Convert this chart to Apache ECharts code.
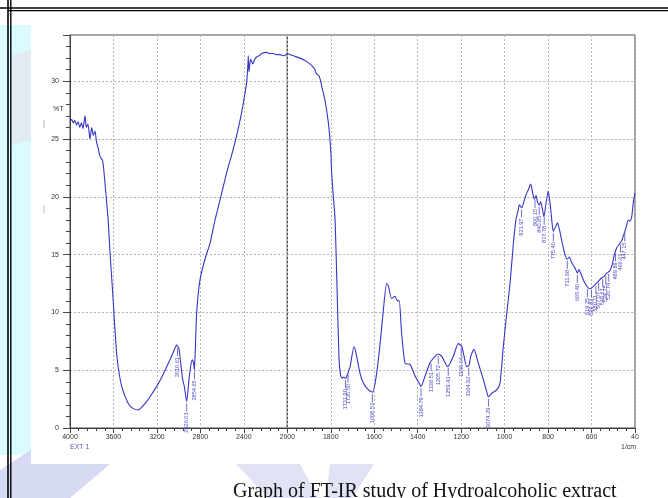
<!DOCTYPE html>
<html>
<head>
<meta charset="utf-8">
<script src="https://cdn.jsdelivr.net/npm/echarts@6/dist/echarts.min.js"></script>
<style>
  html, body { margin: 0; padding: 0; background: #fff; }
  #ftir { width: 668px; height: 498px; }
</style>
</head>
<body>
<div id="ftir"></div>
<script>
// FT-IR spectrum, 4000-2000 1/cm (compressed part of the x axis)
let wnHigh = [4000, 3985, 3970, 3955, 3940, 3925, 3910, 3895, 3880, 3862, 3850, 3835, 3816, 3800, 3785, 3770,
  3755, 3740, 3724, 3699, 3678, 3657, 3647, 3632, 3607, 3586, 3565, 3524, 3463, 3420, 3371, 3340, 3294, 3250,
  3202, 3150, 3110, 3070, 3034, 3018, 3005, 2997, 2981, 2963, 2948, 2926, 2905, 2890, 2875, 2862, 2855, 2846,
  2834, 2804, 2758, 2711, 2665, 2612, 2558, 2510, 2466, 2420, 2389, 2374, 2362, 2359, 2353, 2345, 2337, 2318,
  2300, 2282, 2260, 2236, 2190, 2160, 2129, 2100, 2067, 2030, 2000];
let tHigh = [26.5, 26.7, 26.4, 26.6, 26.2, 26.5, 26.0, 26.4, 25.9, 27.0, 26.0, 26.3, 25.0, 26.0, 25.3, 25.7,
  24.7, 24.2, 23.5, 23.1, 21.2, 18.9, 17.8, 15.2, 11.7, 8.5, 5.9, 3.6, 2.1, 1.7, 1.56, 1.8, 2.3, 2.9,
  3.6, 4.5, 5.3, 6.1, 6.9, 7.2, 7.0, 6.9, 5.6, 4.2, 3.6, 2.3, 4.2, 5.3, 5.9, 5.6, 5.0, 7.0,
  10.0, 12.8, 14.6, 16.0, 18.0, 20.0, 22.1, 23.7, 25.3, 27.3, 29.0, 29.9, 31.5, 32.2, 30.8, 31.5, 31.9, 31.5,
  31.9, 32.1, 32.2, 32.4, 32.5, 32.4, 32.4, 32.3, 32.3, 32.2, 32.4];

// 2000-400 1/cm (expanded part)
let wnLow = [2000, 1972, 1942, 1919, 1896, 1880, 1873, 1865, 1855, 1846, 1842, 1827, 1811, 1800, 1796, 1788,
  1780, 1771, 1762, 1755, 1748, 1740, 1731, 1720, 1711, 1693, 1684, 1665, 1650, 1627, 1607, 1589, 1573, 1558,
  1543, 1535, 1520, 1504, 1494, 1485, 1474, 1458, 1435, 1412, 1397, 1385, 1366, 1347, 1340, 1320, 1305, 1289,
  1262, 1236, 1213, 1197, 1190, 1174, 1164, 1156, 1141, 1121, 1098, 1082, 1075, 1059, 1036, 1021, 1006, 990,
  975, 960, 948, 937, 932, 921, 911, 901, 891, 880, 871, 863, 855, 848, 840, 834, 825, 819, 809, 799, 791,
  783, 776, 768, 757, 748, 737, 722, 711, 702, 691, 676, 665, 658, 648, 635, 619, 607, 592, 576, 564, 553,
  543, 530, 518, 507, 495, 484, 472, 461, 454, 442, 431, 423, 415, 408, 400];
let tLow = [32.4, 32.2, 32.0, 31.8, 31.5, 31.2, 31.0, 30.6, 30.5, 30.0, 29.6, 28.4, 26.4, 24.0, 22.1, 20.0,
  18.0, 12.0, 6.0, 4.6, 4.3, 4.4, 4.3, 4.8, 5.3, 7.05, 6.5, 4.7, 3.9, 3.3, 3.1, 4.7, 7.3, 10.2,
  12.5, 12.3, 11.2, 11.4, 11.0, 11.0, 8.2, 5.6, 5.5, 4.5, 4.0, 3.6, 4.5, 5.5, 5.75, 6.2, 6.4, 6.2,
  5.3, 6.2, 7.3, 7.05, 6.5, 5.3, 5.4, 6.2, 6.8, 5.6, 4.2, 3.1, 2.7, 3.0, 3.3, 3.9, 7.05, 9.95,
  12.5, 15.9, 18.0, 18.9, 19.3, 19.05, 19.6, 20.2, 20.6, 21.1, 20.35, 19.8, 20.1, 19.5, 19.3, 19.6, 18.8, 18.3, 19.5, 20.5, 19.5,
  18.0, 17.0, 17.3, 17.75, 17.2, 16.2, 15.0, 14.6, 14.8, 14.3, 13.85, 13.4, 13.7, 13.3, 12.7, 12.2, 12.05, 12.25, 12.55, 12.8, 13.0,
  13.1, 13.4, 13.55, 14.0, 15.0, 15.6, 15.9, 16.2, 16.6, 17.3, 18.0, 17.9, 18.3, 19.5, 20.35];

// labelled peaks
let peaksHigh = [3010.61, 2926.01, 2854.65];
let peaksLow = [1731.90, 1720.50, 1608.53, 1384.79, 1338.51, 1305.72, 1259.43, 1199.64, 1164.92, 1074.29,
  921.97, 860.15, 840.85, 817.78, 775.40, 711.68, 665.40, 619.25, 599.82, 580.11, 567.07, 548.61, 534.25,
  520.74, 489.89, 466.61, 447.15];

let xTicksHigh = [4000, 3600, 3200, 2800, 2400, 2000];
let xLabelsHigh = ['4000', '3600', '3200', '2800', '2400', '2000'];
let xTicksLow = [2000, 1800, 1600, 1400, 1200, 1000, 800, 600, 400];
let xLabelsLow = ['', '1800', '1600', '1400', '1200', '1000', '800', '600', '40'];
let yTicks = [0, 5, 10, 15, 20, 25, 30];
let yLabels = ['0', '5', '10', '15', '20', '25', '30'];

function lookup(ticks, labels) {
  return function (v) {
    let i = ticks.indexOf(v);
    return i < 0 ? '' : labels[i];
  };
}

// %T on the curve at a given wavenumber, to hang the peak labels
function tAt(w, xs, ys) {
  for (let i = 0; i < xs.length - 1; i++) {
    if (w <= xs[i] && w >= xs[i + 1]) {
      let f = (xs[i] - w) / (xs[i] - xs[i + 1]);
      return ys[i] + f * (ys[i + 1] - ys[i]);
    }
  }
  return ys[ys.length - 1];
}

const blue = '#3535c6';
const labBlue = '#4646c2';
const gridLine = { show: true, lineStyle: { color: '#b5b5b5', type: [2, 2], width: 1 } };
const tickFont = { fontSize: 7, color: '#333', fontFamily: 'Liberation Sans' };

function peakLabel(params, api) {
  let p = api.coord([api.value(0), api.value(1)]);
  return {
    type: 'group',
    children: [
      { type: 'line', shape: { x1: p[0], y1: p[1] + 2, x2: p[0], y2: p[1] + 10 },
        style: { stroke: labBlue, lineWidth: 0.8 } },
      { type: 'text', x: p[0], y: p[1] + 11, rotation: Math.PI / 2,
        style: { text: api.value(0).toFixed(2), fill: labBlue, font: '5.6px Liberation Sans',
          align: 'right', verticalAlign: 'middle', textAlign: 'right', textVerticalAlign: 'middle' } }
    ]
  };
}

var chart = echarts.init(document.getElementById('ftir'));
var option = {
  animation: false,
  graphic: [
    { type: 'rect', z: -100, shape: { x: 0, y: 0, width: 668, height: 498 }, style: { fill: '#fff' } },
    { type: 'rect', z: -99, shape: { x: 0, y: 25, width: 31, height: 430 }, style: { fill: '#dafcfe' } },
    { type: 'polygon', z: -98, shape: { points: [[12, 55], [31, 50], [31, 140], [12, 145]] }, style: { fill: '#e3ebf2' } },
    { type: 'polygon', z: -98, shape: { points: [[0, 470], [31, 450], [31, 464], [110, 464], [70, 498], [0, 498]] }, style: { fill: '#d6daf2' } },
    { type: 'polygon', z: -98, shape: { points: [[236, 464], [300, 464], [318, 498], [268, 498]] }, style: { fill: '#dfe3f3' } },
    { type: 'polygon', z: -98, shape: { points: [[330, 464], [374, 464], [352, 498], [326, 498]] }, style: { fill: '#dfe3f3' } },
    { type: 'rect', z: -97, shape: { x: 31, y: 12, width: 637, height: 452 }, style: { fill: '#fff' } },
    { type: 'line', z: 50, shape: { x1: 44, y1: 120, x2: 44, y2: 128 }, style: { stroke: '#bbb', lineWidth: 1 } },
    { type: 'line', z: 50, shape: { x1: 44, y1: 205, x2: 44, y2: 213 }, style: { stroke: '#bbb', lineWidth: 1 } },
    { type: 'line', z: 50, shape: { x1: 0, y1: 8, x2: 668, y2: 8 }, style: { stroke: '#000', lineWidth: 1.6 } },
    { type: 'line', z: 50, shape: { x1: 8, y1: 10.6, x2: 668, y2: 10.6 }, style: { stroke: '#000', lineWidth: 1.4 } },
    { type: 'line', z: 50, shape: { x1: 8, y1: 0, x2: 8, y2: 498 }, style: { stroke: '#000', lineWidth: 1.6 } },
    { type: 'line', z: 50, shape: { x1: 10.8, y1: 0, x2: 10.8, y2: 498 }, style: { stroke: '#000', lineWidth: 1.4 } },
    { type: 'text', z: 50, x: 53, y: 106, style: { text: '%T', fontSize: 7, fill: '#333', fontFamily: 'Liberation Sans' } },
    { type: 'text', z: 50, x: 70, y: 444, style: { text: 'EXT 1', fontSize: 7, fill: '#5a5ab8', fontFamily: 'Liberation Sans' } },
    { type: 'text', z: 50, x: 621, y: 444, style: { text: '1/cm', fontSize: 7, fill: '#333', fontFamily: 'Liberation Sans' } },
    { type: 'text', z: 50, x: 233, y: 482, style: { text: 'Graph of FT-IR study of Hydroalcoholic extract',
        fontSize: 20, fill: '#111', fontFamily: 'Liberation Serif' } }
  ],
  grid: [
    { left: 70, top: 35, width: 217.3, height: 393, show: true, borderColor: '#444', borderWidth: 1 },
    { left: 287.3, top: 35, width: 347.7, height: 393, show: true, borderColor: '#444', borderWidth: 1 }
  ],
  xAxis: [
    {
      gridIndex: 0, type: 'value', min: 2000, max: 4000, interval: 400, inverse: true,
      axisLine: { lineStyle: { color: '#444' } },
      axisTick: { length: 5, lineStyle: { color: '#444' } },
      minorTick: { show: true, splitNumber: 5, length: 3, lineStyle: { color: '#444' } },
      axisLabel: Object.assign({ margin: 6, showMinLabel: true, showMaxLabel: true,
        formatter: lookup(xTicksHigh, xLabelsHigh) }, tickFont),
      splitLine: gridLine
    },
    {
      gridIndex: 1, type: 'value', min: 400, max: 2000, interval: 200, inverse: true,
      axisLine: { lineStyle: { color: '#444' } },
      axisTick: { length: 5, lineStyle: { color: '#444' } },
      minorTick: { show: true, splitNumber: 5, length: 3, lineStyle: { color: '#444' } },
      axisLabel: Object.assign({ margin: 6, showMinLabel: true, showMaxLabel: true,
        formatter: lookup(xTicksLow, xLabelsLow) }, tickFont),
      splitLine: gridLine
    }
  ],
  yAxis: [
    {
      gridIndex: 0, type: 'value', position: 'left', min: 0, max: 34, interval: 5,
      axisLine: { lineStyle: { color: '#444' } },
      axisTick: { length: 7, lineStyle: { color: '#444' } },
      axisLabel: Object.assign({ margin: 11, showMaxLabel: true, formatter: lookup(yTicks, yLabels) }, tickFont),
      splitLine: gridLine
    },
    {
      gridIndex: 0, type: 'value', position: 'left', offset: 0, min: 0, max: 34, interval: 1,
      axisLine: { show: false },
      axisTick: { length: 4, lineStyle: { color: '#444' } },
      axisLabel: { show: false },
      splitLine: { show: false }
    },
    {
      gridIndex: 1, type: 'value', min: 0, max: 34, interval: 5,
      axisLine: { show: false }, axisTick: { show: false }, axisLabel: { show: false },
      splitLine: gridLine
    }
  ],
  series: [
    {
      type: 'line', xAxisIndex: 0, yAxisIndex: 0, showSymbol: false, smooth: 0.2,
      lineStyle: { color: blue, width: 1.1 },
      data: wnHigh.map((w, i) => [w, tHigh[i]])
    },
    {
      type: 'line', xAxisIndex: 1, yAxisIndex: 2, showSymbol: false, smooth: 0.2,
      lineStyle: { color: blue, width: 1.1 },
      data: wnLow.map((w, i) => [w, tLow[i]])
    },
    {
      type: 'custom', xAxisIndex: 0, yAxisIndex: 0, clip: false, renderItem: peakLabel,
      data: peaksHigh.map(w => [w, tAt(w, wnHigh, tHigh)])
    },
    {
      type: 'custom', xAxisIndex: 1, yAxisIndex: 2, clip: false, renderItem: peakLabel,
      data: peaksLow.map(w => [w, tAt(w, wnLow, tLow)])
    }
  ]
};
chart.setOption(option);
</script>
</body>
</html>
